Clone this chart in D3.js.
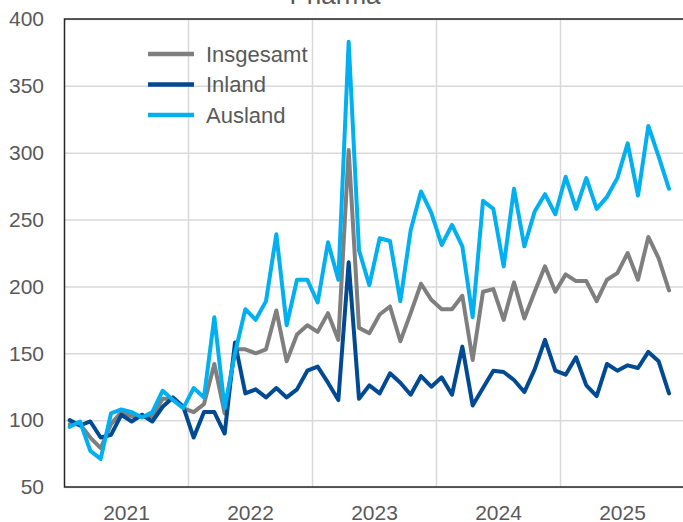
<!DOCTYPE html>
<html>
<head>
<meta charset="utf-8">
<script src="https://cdn.jsdelivr.net/npm/d3@7"></script>
<style>
  body { margin: 0; background: #fff; }
  svg text { font-family: Arial, "Liberation Sans", sans-serif; fill: #595959; }
  .grid line { stroke: #d9d9d9; stroke-width: 1.5; }
  .grid .domain { display: none; }
</style>
</head>
<body>
<svg id="container"></svg>
<script>
// month categories, Jan 2021 .. Nov 2025
var months = d3.utcMonth.range(Date.UTC(2021, 0, 1), Date.UTC(2025, 11, 1));
var years = ["2021", "2022", "2023", "2024", "2025"];
var yTicks = [50, 100, 150, 200, 250, 300, 350, 400];

var insgesamt = [97, 97, 87, 79, 97, 106, 103, 103, 103, 116, 116, 109,
                 106, 112, 142, 105, 153, 153, 150, 153, 182, 144, 164, 171,
                 166, 180, 160, 302, 169, 165, 179, 185, 159, 180, 202, 190,
                 183, 183, 193, 145, 196, 198, 175, 203, 176, 196, 215, 196,
                 209, 204, 204, 189, 205, 210, 225, 205, 237, 221, 197];
var inland = [100, 96, 99, 87, 89, 104, 99, 104, 99, 110, 117, 110,
              87, 106, 106, 90, 158, 120, 123, 117, 124, 117, 123, 137,
              140, 128, 115, 218, 116, 126, 120, 135, 128, 119, 133, 125,
              132, 119, 155, 111, 124, 137, 136, 130, 121, 138, 160, 137,
              134, 147, 126, 118, 142, 137, 141, 139, 151, 144, 120];
var ausland = [95, 99, 77, 71, 105, 108, 106, 102, 106, 122, 115, 109,
               124, 117, 177, 109, 150, 183, 175, 189, 239, 171, 205, 205,
               188, 233, 205, 383, 227, 201, 236, 234, 189, 242, 271, 255,
               231, 246, 230, 177, 264, 258, 215, 273, 230, 256, 269, 254,
               282, 258, 281, 258, 267, 281, 307, 268, 320, 297, 273];

function drawChart() {
  var series = [
    {name: "Insgesamt", values: insgesamt, color: "#7f7f7f"},
    {name: "Inland", values: inland, color: "#004a93"},
    {name: "Ausland", values: ausland, color: "#00b0f0"}
  ];

  var W = 683, H = 522;
  var mLeft = 64.5, mTop = 19, mRight = 684.5, mBottom = 487;

  var svg = d3.select("#container").attr("width", W).attr("height", H);

  // title (cut off at top in the original)
  svg.append("text")
    .attr("x", 335).attr("y", 4)
    .attr("text-anchor", "middle")
    .style("font-size", "26px")
    .text("Pharma");

  var xMonth = d3.scaleBand().domain(d3.range(60)).range([mLeft, mRight]).padding(0);
  var xYear = d3.scaleBand().domain(years).range([mLeft, mRight]).padding(0);
  var yScale = d3.scaleLinear().domain([50, 400]).range([mBottom, mTop]);

  // horizontal gridlines
  svg.append("g")
    .attr("class", "grid")
    .attr("transform", "translate(" + mLeft + ",0)")
    .call(d3.axisLeft(yScale).tickValues(yTicks).tickSize(-(mRight - mLeft)).tickFormat(""));

  // vertical gridlines at year starts
  svg.append("g")
    .attr("class", "grid")
    .selectAll("line")
    .data(years.slice(1))
    .enter().append("line")
    .attr("x1", d => xYear(d)).attr("x2", d => xYear(d))
    .attr("y1", mTop).attr("y2", mBottom);

  // plot border
  svg.append("rect")
    .attr("x", mLeft).attr("y", mTop)
    .attr("width", mRight - mLeft).attr("height", mBottom - mTop)
    .attr("fill", "none").attr("stroke", "#262626").attr("stroke-width", 1.5);

  // y axis labels
  var gY = svg.append("g")
    .attr("transform", "translate(44,0)")
    .call(d3.axisLeft(yScale).tickValues(yTicks).tickSize(0).tickPadding(0));
  gY.select(".domain").remove();
  gY.selectAll("text").style("font-size", "21px").attr("fill", "#595959")
    .attr("font-family", null);

  // x axis labels (centered in each year)
  var gX = svg.append("g")
    .attr("transform", "translate(0," + mBottom + ")")
    .call(d3.axisBottom(xYear).tickSize(0).tickPadding(0));
  gX.select(".domain").remove();
  gX.selectAll("text").style("font-size", "21px").attr("fill", "#595959")
    .attr("font-family", null).attr("dy", null).attr("y", 33);

  // lines
  var line = d3.line()
    .x((d, i) => xMonth(i) + xMonth.bandwidth() / 2)
    .y(d => yScale(d));

  svg.append("g").selectAll("path")
    .data(series)
    .enter().append("path")
    .attr("d", d => line(d.values))
    .attr("fill", "none")
    .attr("stroke", d => d.color)
    .attr("stroke-width", 4)
    .attr("stroke-linejoin", "round")
    .attr("stroke-linecap", "round");

  // legend
  var legend = svg.append("g").selectAll("g")
    .data(series)
    .enter().append("g")
    .attr("transform", (d, i) => "translate(148," + (54 + i * 30.5) + ")");
  legend.append("line")
    .attr("x1", 0).attr("x2", 46)
    .attr("stroke", d => d.color).attr("stroke-width", 4.5);
  legend.append("text")
    .attr("x", 58).attr("dy", "0.35em")
    .style("font-size", "22px")
    .text(d => d.name);
}

drawChart();
</script>
</body>
</html>
